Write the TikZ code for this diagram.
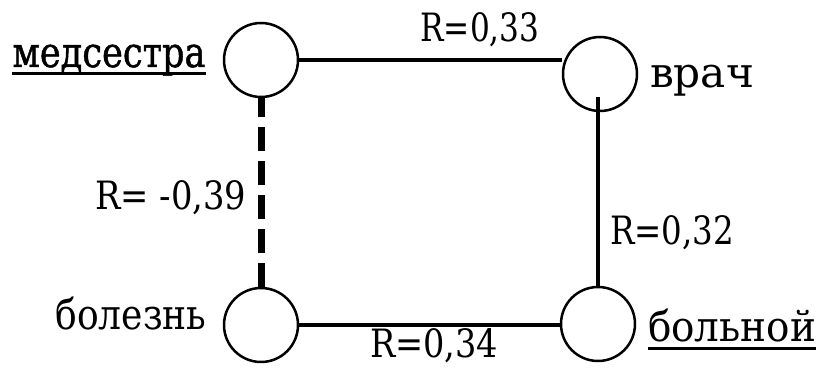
\documentclass[tikz,border=0pt]{standalone}
\usepackage{fontspec}
\usetikzlibrary{calc}
\newfontfamily\labfont{DejaVu Serif}
\newfontfamily\labfontb[FakeBold=1.2]{DejaVu Serif}
\newcommand\myul[1]{\setbox0\hbox{#1}\rlap{\rule[-8pt]{\wd0}{3pt}}\box0}
\newcommand\fitw[2]{\resizebox{#1}{\height}{#2}}
\tikzset{
  vert/.style={circle, draw, line width=2.5pt, minimum size=74pt, inner sep=0pt},
  lab/.style={font=\labfont\fontsize{39}{42}\selectfont, inner sep=0pt, anchor=base},
  word/.style={lab, font=\labfont\fontsize{42}{45}\selectfont},
  wordb/.style={lab, font=\labfontb\fontsize{42}{45}\selectfont},
  edge/.style={line width=4pt},
  negedge/.style={line width=7pt, dash pattern=on 24pt off 10pt}
}
\begin{document}
\begin{tikzpicture}[x=1pt,y=1pt]
\useasboundingbox (0,0) rectangle (820,372);
\node[vert] (A) at (261,312) {};
\node[vert] (B) at (600,298) {};
\node[vert] (C) at (261,47) {};
\node[vert] (D) at (598,48) {};
\draw[edge] (A.east) -- (A.east -| B.west);
\draw[edge] (D.north) -- ($(B.south -| D.north)+(0,15)$);
\draw[edge] (C.east) -- (C.east -| D.west);
\draw[negedge] (C.north) -- (A.south);
\node[wordb] (lA) at (109,305) {\myul{\fitw{193pt}{медсестра}}};
\node[word] (lB) at (702,284) {\fitw{104pt}{врач}};
\node[word] (lC) at (131,42) {\fitw{151pt}{болезнь}};
\node[word] (lD) at (732,30) {\myul{\fitw{168pt}{больной}}};
\node[lab] (rAB) at (480,330) {\fitw{119pt}{R=0,33}};
\node[lab] (rAC) at (171,162) {\fitw{151pt}{R= -0,39}};
\node[lab] (rBD) at (672,127) {\fitw{124pt}{R=0,32}};
\node[lab] (rCD) at (434,14) {\fitw{128pt}{R=0,34}};
\end{tikzpicture}
\end{document}
